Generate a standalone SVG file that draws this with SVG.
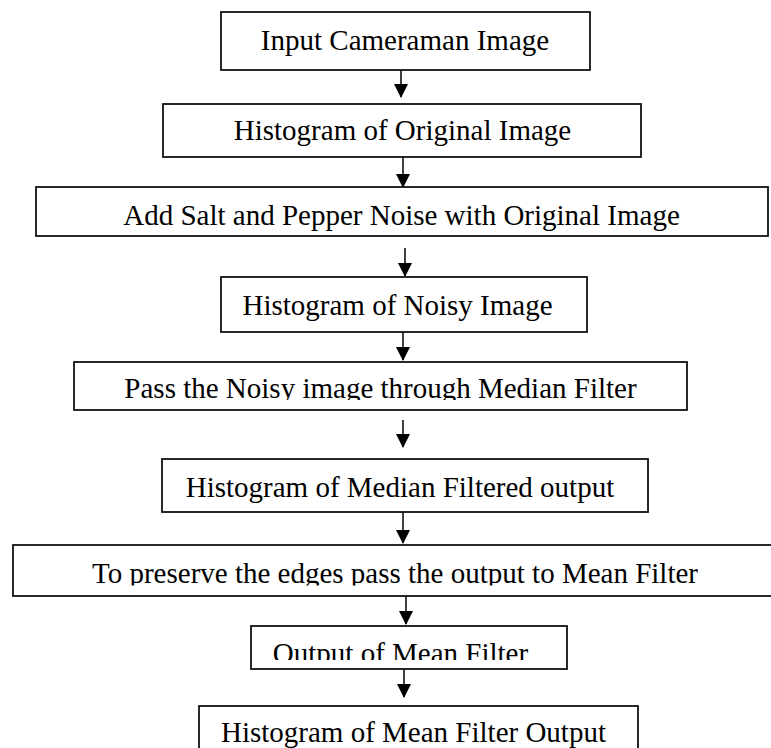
<svg xmlns="http://www.w3.org/2000/svg" width="771" height="748" viewBox="0 0 771 748">
  <style>
    .box { fill: #fff; stroke: #111; stroke-width: 1.8; }
    .lbl { font-family: "Liberation Serif", "Times New Roman", serif; font-size: 29px; fill: #000; text-anchor: middle; }
    .conn line { stroke: #000; stroke-width: 1.5; }
  </style>
  <defs>
    <!-- filled triangular head, drawn along +x so orient="auto" turns it to the line -->
    <marker id="arrowhead" viewBox="0 0 14 14" refX="13" refY="7" markerWidth="14" markerHeight="14" markerUnits="userSpaceOnUse" orient="auto">
      <path d="M0,0 L14,7 L0,14 Z" fill="#000"/>
    </marker>
    <!-- text frames that cut off the bottom of long labels -->
    <clipPath id="clip3"><rect x="36" y="187" width="732" height="46.5"/></clipPath>
    <clipPath id="clip5"><rect x="74" y="362" width="613" height="38"/></clipPath>
    <clipPath id="clip7"><rect x="13" y="545" width="758" height="40.5"/></clipPath>
    <clipPath id="clip8"><rect x="251" y="626" width="316" height="34"/></clipPath>
  </defs>
  <rect width="771" height="748" fill="#fff"/>

  <g id="connectors" class="conn">
    <line x1="401" y1="70" x2="401" y2="97"  marker-end="url(#arrowhead)"/>
    <line x1="403" y1="157" x2="403" y2="187" marker-end="url(#arrowhead)"/>
    <line x1="405" y1="248" x2="405" y2="276" marker-end="url(#arrowhead)"/>
    <line x1="403" y1="332" x2="403" y2="360" marker-end="url(#arrowhead)"/>
    <line x1="403" y1="420" x2="403" y2="447" marker-end="url(#arrowhead)"/>
    <line x1="403" y1="512" x2="403" y2="543" marker-end="url(#arrowhead)"/>
    <line x1="406" y1="596" x2="406" y2="624" marker-end="url(#arrowhead)"/>
    <line x1="404" y1="669" x2="404" y2="697" marker-end="url(#arrowhead)"/>
  </g>

  <g id="input-image">
    <rect class="box" x="221" y="12" width="369" height="58"/>
    <text class="lbl" x="405" y="50">Input Cameraman Image</text>
  </g>

  <g id="histogram-original">
    <rect class="box" x="163" y="104" width="478" height="53"/>
    <text class="lbl" x="402.5" y="140">Histogram of Original Image</text>
  </g>

  <g id="add-noise">
    <rect class="box" x="36" y="187" width="732" height="49"/>
    <text class="lbl" x="401.5" y="225" clip-path="url(#clip3)">Add Salt and Pepper Noise with Original Image</text>
  </g>

  <g id="histogram-noisy">
    <rect class="box" x="221" y="277" width="366" height="55"/>
    <text class="lbl" x="397.5" y="315">Histogram of Noisy Image</text>
  </g>

  <g id="median-filter">
    <rect class="box" x="74" y="362" width="613" height="48"/>
    <text class="lbl" x="380.5" y="398" clip-path="url(#clip5)">Pass the Noisy image through Median Filter</text>
  </g>

  <g id="histogram-median">
    <rect class="box" x="162" y="459" width="486" height="53"/>
    <text class="lbl" x="400" y="497">Histogram of Median Filtered output</text>
  </g>

  <g id="mean-filter">
    <rect class="box" x="13" y="545" width="770" height="51"/>
    <text class="lbl" x="92" y="583" style="text-anchor:start" clip-path="url(#clip7)">To preserve the edges pass the output to Mean Filter</text>
  </g>

  <g id="mean-output">
    <rect class="box" x="251" y="626" width="316" height="43"/>
    <text class="lbl" x="400.5" y="663" clip-path="url(#clip8)">Output of Mean Filter</text>
  </g>

  <g id="histogram-mean">
    <rect class="box" x="199" y="706" width="439" height="60"/>
    <text class="lbl" x="413.5" y="742">Histogram of Mean Filter Output</text>
  </g>
</svg>
